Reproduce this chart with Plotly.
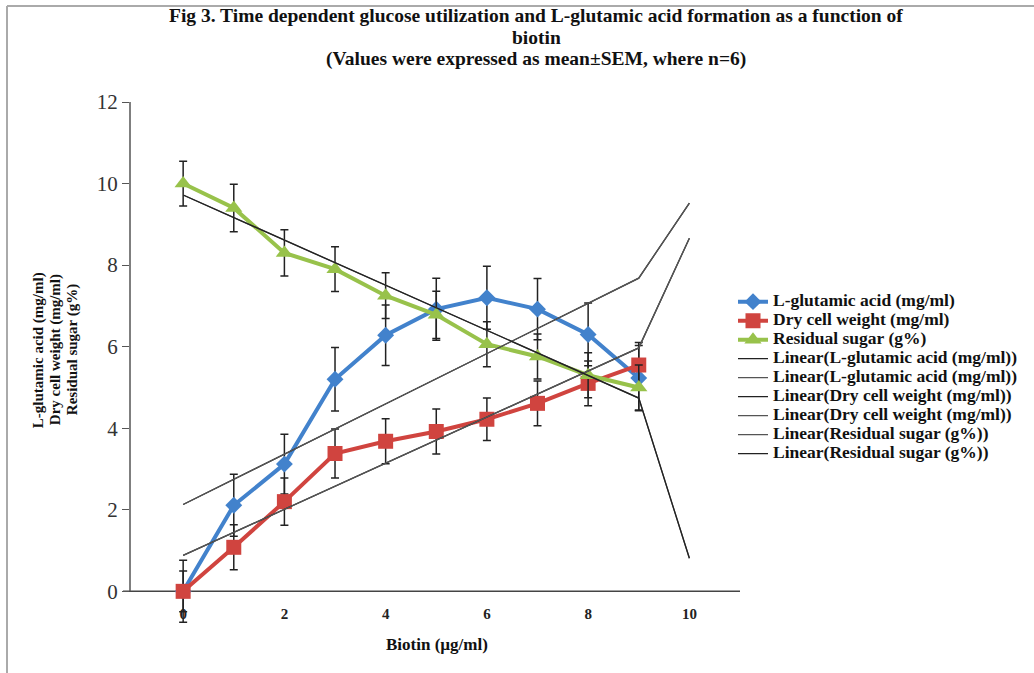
import plotly.graph_objects as go

# ---------------- data ----------------
biotin = [0, 1, 2, 3, 4, 5, 6, 7, 8, 9]
glutamic = [0.0, 2.11, 3.12, 5.2, 6.28, 6.92, 7.2, 6.92, 6.3, 5.23]
glutamic_sem = [0.76, 0.76, 0.73, 0.78, 0.74, 0.76, 0.77, 0.75, 0.77, 0.8]
dry_weight = [0.0, 1.08, 2.2, 3.38, 3.68, 3.92, 4.22, 4.61, 5.1, 5.55]
dry_weight_sem = [0.5, 0.55, 0.58, 0.6, 0.55, 0.55, 0.52, 0.55, 0.55, 0.55]
residual_sugar = [10.0, 9.4, 8.3, 7.9, 7.25, 6.78, 6.06, 5.76, 5.3, 5.0]
residual_sugar_sem = [0.55, 0.58, 0.57, 0.55, 0.56, 0.58, 0.55, 0.55, 0.55, 0.55]

trend_x = [0, 9, 10]
trend_glutamic = [2.13, 7.68, 9.52]
trend_dry_weight = [0.88, 5.97, 8.66]
trend_sugar = [9.72, 4.74, 0.81]

x_tickvals = [0, 2, 4, 6, 8, 10]
x_ticktext = ["0", "2", "4", "6", "8", "10"]
y_tickvals = [0, 2, 4, 6, 8, 10, 12]

series_names = ["L-glutamic acid (mg/ml)", "Dry cell weight (mg/ml)", "Residual sugar (g%)"]
title_lines = [
    "Fig 3. Time dependent glucose utilization and L-glutamic acid formation as a function of",
    "biotin",
    "(Values were expressed as mean±SEM, where n=6)",
]

# ---------------- layout geometry (target pixels) ----------------
W, H = 1034, 673
L, R = 130, 740            # plot area left / right
Y_TOP_PX, Y0_PX = 102, 591  # pixel of y=12 and y=0
Y_MAX, Y_MIN = 12, -0.85     # extra room below 0 so error bars are not clipped
PX_PER_UNIT = (Y0_PX - Y_TOP_PX) / Y_MAX
T = Y_TOP_PX
B = Y0_PX - Y_MIN * PX_PER_UNIT   # plot bottom pixel


def px(xp):
    return (xp - L) / (R - L)


def py(yp):
    return (B - yp) / (B - T)


SERIF = "Liberation Serif"
BLUE, RED, GREEN = "#4282CC", "#D0443F", "#98C24B"
LEGEND_TEXT_PX = 17.5


def sized(txt, size):
    return f'<span style="font-size:{size}px">{txt}</span>'


fig = go.Figure()


def err(vals):
    return dict(type="data", array=vals, visible=True, color="#222", thickness=1.5, width=4)


fig.add_trace(go.Scatter(
    x=biotin, y=glutamic, name=sized(series_names[0], LEGEND_TEXT_PX), mode="lines+markers",
    line=dict(color=BLUE, width=4),
    marker=dict(symbol="diamond", size=13, color=BLUE),
    error_y=err(glutamic_sem), cliponaxis=False))
fig.add_trace(go.Scatter(
    x=biotin, y=dry_weight, name=sized(series_names[1], LEGEND_TEXT_PX), mode="lines+markers",
    line=dict(color=RED, width=4),
    marker=dict(symbol="square", size=15, color=RED),
    error_y=err(dry_weight_sem), cliponaxis=False))
fig.add_trace(go.Scatter(
    x=biotin, y=residual_sugar, name=sized(series_names[2], LEGEND_TEXT_PX), mode="lines+markers",
    line=dict(color=GREEN, width=4),
    marker=dict(symbol="triangle-up", size=15, color=GREEN),
    error_y=err(residual_sugar_sem), cliponaxis=False))

trends = [
    ("Linear(L-glutamic acid (mg/ml))", trend_glutamic, "#222"),
    ("Linear(L-glutamic acid (mg/ml))", trend_glutamic, "#555"),
    ("Linear(Dry cell weight (mg/ml))", trend_dry_weight, "#222"),
    ("Linear(Dry cell weight (mg/ml))", trend_dry_weight, "#555"),
    ("Linear(Residual sugar (g%))", trend_sugar, "#555"),
    ("Linear(Residual sugar (g%))", trend_sugar, "#222"),
]
for name, vals, col in trends:
    fig.add_trace(go.Scatter(
        x=trend_x, y=vals, name=sized(name, LEGEND_TEXT_PX), mode="lines",
        line=dict(color=col, width=1.3)))

fig.update_layout(
    width=W, height=H,
    margin=dict(l=L, r=W - R, t=T, b=H - B, autoexpand=False),
    paper_bgcolor="white", plot_bgcolor="white",
    showlegend=True,
    legend=dict(x=px(733), y=py(287), xanchor="left", yanchor="top",
                font=dict(family=SERIF, size=12, color="#111", weight="bold"),
                bgcolor="rgba(0,0,0,0)", tracegroupgap=0, itemwidth=30),
    xaxis=dict(range=[-1.05, 11.0], tickvals=x_tickvals, ticktext=x_ticktext,
               anchor="free", position=py(Y0_PX),
               showgrid=False, zeroline=False, showline=False, ticks="",
               ticklabelstandoff=12,
               tickfont=dict(family=SERIF, size=15, color="#222", weight="bold")),
    yaxis=dict(range=[Y_MIN, Y_MAX], tickvals=y_tickvals, showgrid=False, zeroline=False,
               showline=False,
               ticks="outside", ticklen=7, tickcolor="#555", tickwidth=1.2,
               tickfont=dict(family=SERIF, size=21, color="#333")),
)

# axis lines
fig.add_shape(type="line", xref="paper", yref="y", x0=px(123), x1=1, y0=0, y1=0,
              line=dict(color="#444", width=1.5), layer="below")
fig.add_shape(type="line", xref="paper", yref="y", x0=0, x1=0, y0=0, y1=Y_MAX,
              line=dict(color="#555", width=1.5), layer="below")

# title (three centred lines)
for yp, txt in zip([16, 37.5, 59], title_lines):
    fig.add_annotation(text=txt, xref="paper", yref="paper", x=px(536), y=py(yp),
                       showarrow=False, xanchor="center", yanchor="middle",
                       font=dict(family=SERIF, size=19.5, color="#111", weight="bold"))

# y-axis title (three stacked rotated lines)
for xp, txt in zip([38, 55, 72], series_names):
    fig.add_annotation(text=txt, xref="paper", yref="paper", x=px(xp), y=py(350),
                       textangle=-90, showarrow=False, xanchor="center", yanchor="middle",
                       font=dict(family=SERIF, size=15, color="#111", weight="bold"))

# x-axis title
fig.add_annotation(text="Biotin (µg/ml)", xref="paper", yref="paper", x=px(437), y=py(644),
                   showarrow=False, xanchor="center", yanchor="middle",
                   font=dict(family=SERIF, size=17, color="#111", weight="bold"))

# picture frame (left and top grey border)
fig.add_shape(type="line", xref="paper", yref="paper", x0=px(7), x1=px(7), y0=py(6), y1=py(673),
              line=dict(color="#aaa", width=2))
fig.add_shape(type="line", xref="paper", yref="paper", x0=px(7), x1=px(1034), y0=py(6), y1=py(6),
              line=dict(color="#aaa", width=2))

fig.write_html("out.html", config={"displayModeBar": False},
               post_script="document.body.style.margin='0px';")
